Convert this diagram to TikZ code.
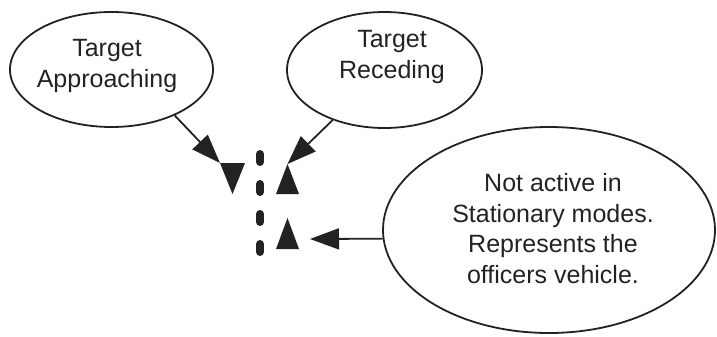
\documentclass[tikz,border=0pt]{standalone}
\usepackage{fontspec}
\setmainfont{Liberation Sans}
\usetikzlibrary{arrows.meta,shapes.geometric}
\definecolor{ink}{HTML}{222222}
\begin{document}
\begin{tikzpicture}[x=1pt, y=-1pt,
    bubble/.style={draw=ink, line width=1.8pt, ellipse, inner sep=0pt},
    bubbletext/.style={text=ink, align=center, inner sep=0pt,
        font=\fontsize{25}{30.5}\selectfont},
    pointer/.style={draw=ink, line width=1.8pt,
        -{Triangle[length=29pt, width=21pt]}},
    lanemark/.style={draw=ink, line width=8pt, line cap=round}]

% Fix the page size
\useasboundingbox (0,0) rectangle (717,337);

% Draw the bubbles
\node[bubble, minimum width=203pt, minimum height=115pt] (appr) at (111.5,69.5) {};
\node[bubble, minimum width=195pt, minimum height=116pt] (rece) at (384.5,70) {};
\node[bubble, minimum width=332pt, minimum height=206pt] (vehi) at (549,230) {};

% Label the bubbles
\node[bubbletext] (apprtext) at (107,66) {Target\\Approaching};
\node[bubbletext] (recetext) at (392,57) {Target\\Receding};
\node[bubbletext] (vehitext) at (553,228.5) {Not active in\\Stationary modes.\\Represents the\\officers vehicle.};

% Draw the lane marks
\foreach \y in {150,180,210,240}
    \draw[lanemark] (260,\y+4) -- (260,\y+12);

% Draw the targets and the vehicle
\fill[ink] (220,163) coordinate (apprtip) -- (245,163) -- (232.5,194) -- cycle;
\fill[ink] (276,194) -- (299,194) -- (287.5,164) coordinate (recetip) -- cycle;
\fill[ink] (276,249) -- (299,249) -- (287.5,218) -- cycle;
\coordinate (vehitip) at (310,239);

% Arrows from the bubbles
\draw[pointer] (appr.-36) -- (apprtip);
\draw[pointer] (rece.-136) -- (recetip);
\draw[pointer] (vehi.183) -- (vehitip);

\end{tikzpicture}
\end{document}
